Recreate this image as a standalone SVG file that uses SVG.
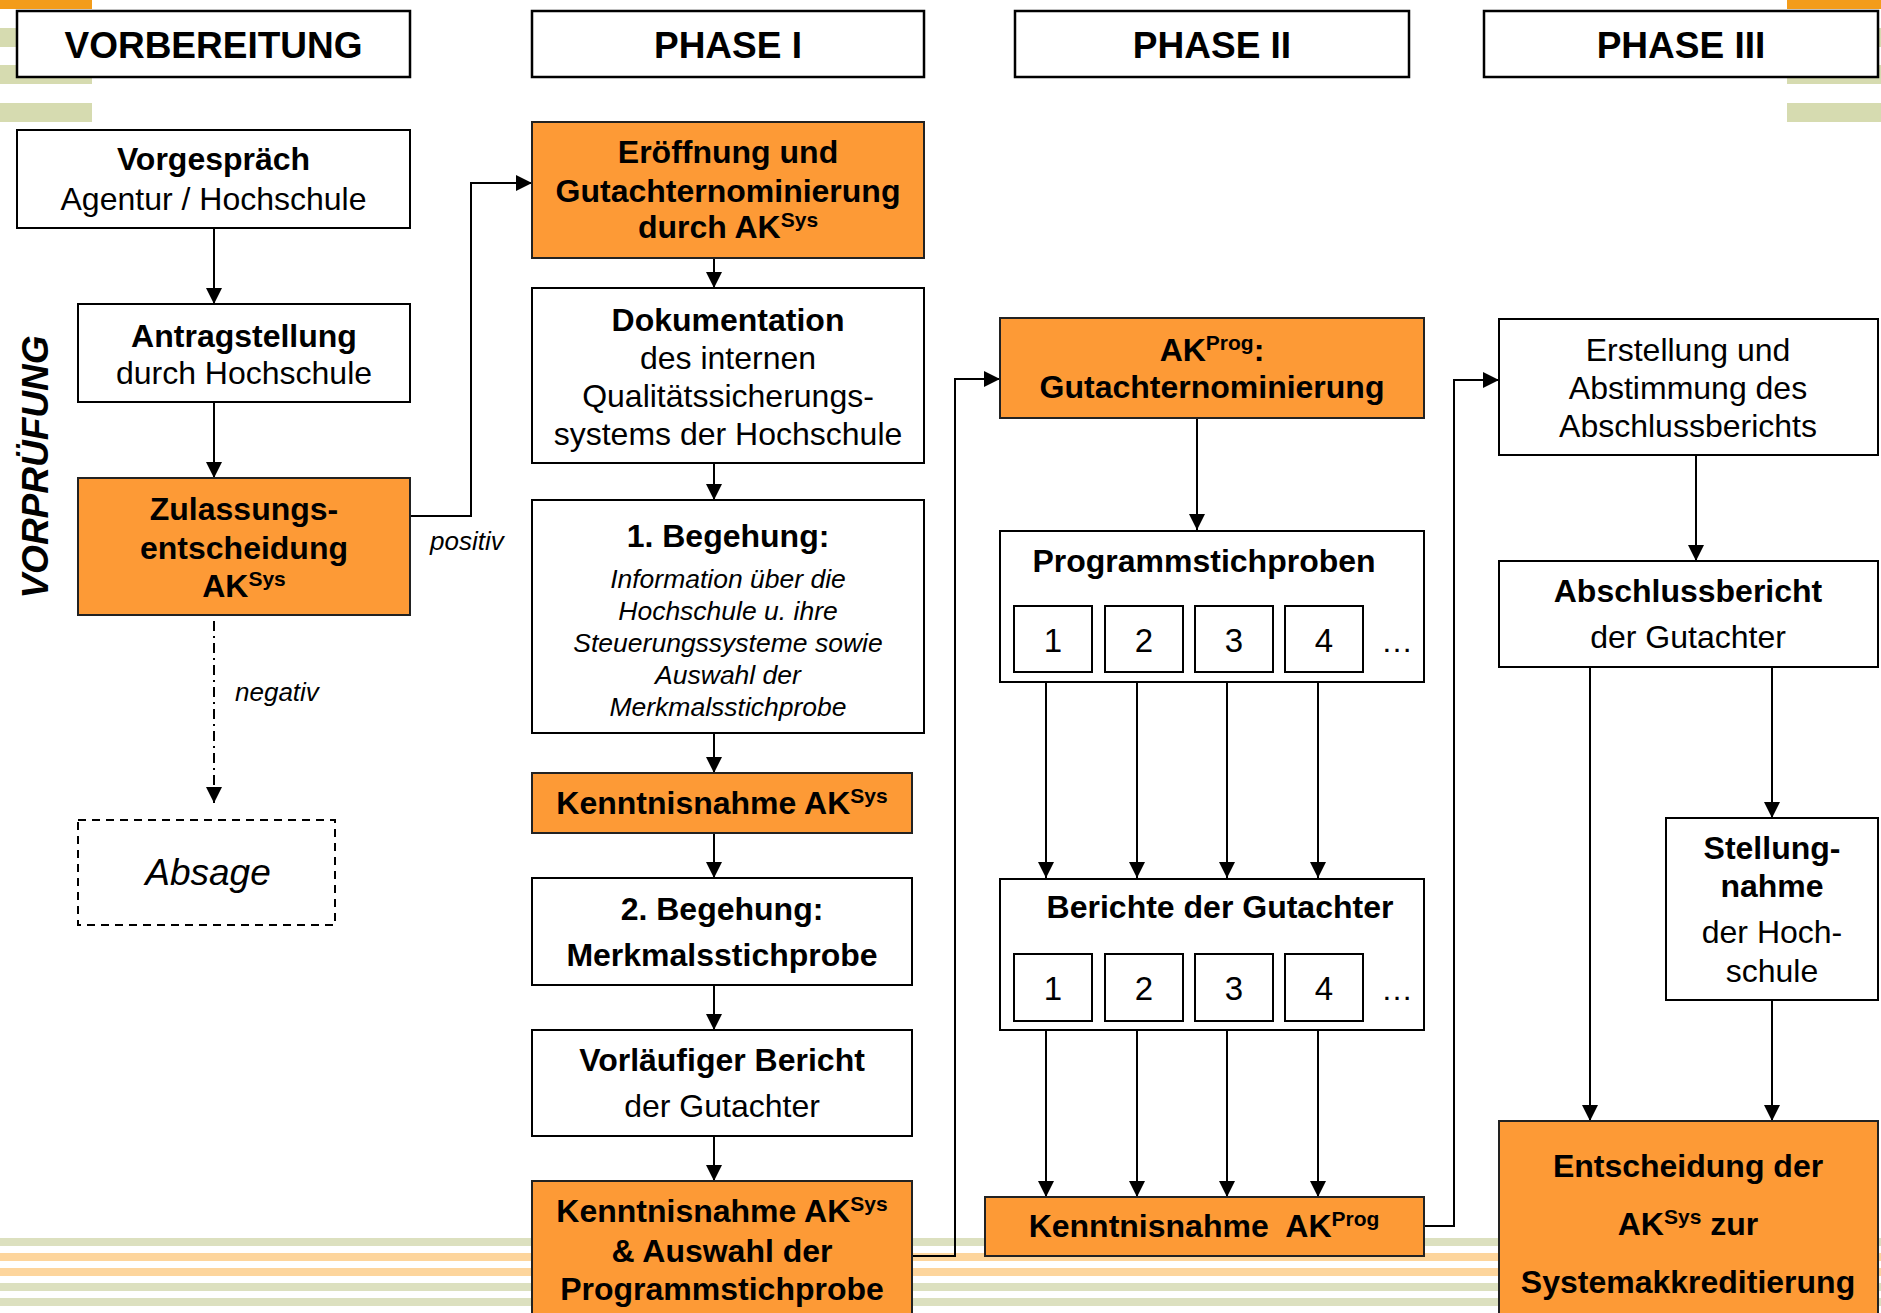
<svg xmlns="http://www.w3.org/2000/svg" width="1881" height="1313" viewBox="0 0 1881 1313">
<style>
.box{fill:#fff;stroke:#000;stroke-width:2}
.hbox{fill:#fff;stroke:#000;stroke-width:2.5}
.obox{fill:#fd9a36;stroke:#222;stroke-width:2}
.sub{fill:#fff;stroke:#000;stroke-width:2}
.t{font-family:"Liberation Sans",Arial,Helvetica,sans-serif;font-size:32px;text-anchor:middle;fill:#000}
.b{font-weight:bold}
.i{font-style:italic}
.h{font-size:37px;font-weight:bold}
.s{font-size:21px}
.c{fill:none;stroke:#000;stroke-width:2}
.dg{fill:#d6dbb0}
.do{fill:#f39c1a}
.sg{fill:#dce0bf}
.so{fill:#fdd59c}
</style>
<defs>
<marker id="ah" markerUnits="userSpaceOnUse" markerWidth="16" markerHeight="16" viewBox="0 0 15 15" refX="15" refY="7.5" orient="auto">
<path d="M0,0 L15,7.5 L0,15 z" fill="#000"/>
</marker>
</defs>
<rect width="1881" height="1313" fill="#fff"/>
<g id="decor">
<rect class="do" x="0" y="0" width="92" height="9"/>
<rect class="dg" x="0" y="28" width="92" height="19"/>
<rect class="dg" x="0" y="65" width="92" height="19"/>
<rect class="dg" x="0" y="103" width="92" height="19"/>
<rect class="do" x="1787" y="0" width="94" height="9"/>
<rect class="dg" x="1787" y="28" width="94" height="19"/>
<rect class="dg" x="1787" y="65" width="94" height="19"/>
<rect class="dg" x="1787" y="103" width="94" height="19"/>
<rect class="sg" x="0" y="1238" width="1881" height="8"/>
<rect class="so" x="0" y="1253" width="1881" height="8"/>
<rect class="so" x="0" y="1268" width="1881" height="8"/>
<rect class="sg" x="0" y="1283" width="1881" height="8"/>
<rect class="sg" x="0" y="1298" width="1881" height="8"/>
</g>
<g id="headers">
<g id="h-vorbereitung"><rect class="hbox" x="17" y="11" width="393" height="66"/><text class="t h" x="213.5" y="58">VORBEREITUNG</text></g>
<g id="h-phase1"><rect class="hbox" x="532" y="11" width="392" height="66"/><text class="t h" x="728" y="58">PHASE I</text></g>
<g id="h-phase2"><rect class="hbox" x="1015" y="11" width="394" height="66"/><text class="t h" x="1212" y="58">PHASE II</text></g>
<g id="h-phase3"><rect class="hbox" x="1484" y="11" width="394" height="66"/><text class="t h" x="1681" y="58">PHASE III</text></g>
</g>
<g id="connectors">
<path class="c" d="M214,228 V304" marker-end="url(#ah)"/>
<path class="c" d="M214,402 V478" marker-end="url(#ah)"/>
<path class="c" d="M214,621 V803" stroke-dasharray="10,5,2,5" marker-end="url(#ah)"/>
<path class="c" d="M410,516 H471 V183 H532" marker-end="url(#ah)"/>
<path class="c" d="M714,258 V288" marker-end="url(#ah)"/>
<path class="c" d="M714,463 V500" marker-end="url(#ah)"/>
<path class="c" d="M714,733 V773" marker-end="url(#ah)"/>
<path class="c" d="M714,833 V878" marker-end="url(#ah)"/>
<path class="c" d="M714,985 V1030" marker-end="url(#ah)"/>
<path class="c" d="M714,1136 V1181" marker-end="url(#ah)"/>
<path class="c" d="M912,1256 H955 V379 H1000" marker-end="url(#ah)"/>
<path class="c" d="M1197,418 V530" marker-end="url(#ah)"/>
<path class="c" d="M1046,682 V878" marker-end="url(#ah)"/>
<path class="c" d="M1137,682 V878" marker-end="url(#ah)"/>
<path class="c" d="M1227,682 V878" marker-end="url(#ah)"/>
<path class="c" d="M1318,682 V878" marker-end="url(#ah)"/>
<path class="c" d="M1046,1030 V1197" marker-end="url(#ah)"/>
<path class="c" d="M1137,1030 V1197" marker-end="url(#ah)"/>
<path class="c" d="M1227,1030 V1197" marker-end="url(#ah)"/>
<path class="c" d="M1318,1030 V1197" marker-end="url(#ah)"/>
<path class="c" d="M1424,1226 H1454 V380 H1499" marker-end="url(#ah)"/>
<path class="c" d="M1696,455 V561" marker-end="url(#ah)"/>
<path class="c" d="M1590,667 V1121" marker-end="url(#ah)"/>
<path class="c" d="M1772,667 V818" marker-end="url(#ah)"/>
<path class="c" d="M1772,1000 V1121" marker-end="url(#ah)"/>
<text class="t i" style="font-size:26px;text-anchor:start" x="235" y="701">negativ</text>
<text class="t i" style="font-size:26px;text-anchor:start" x="430" y="550">positiv</text>
</g>
<text class="t b i" style="font-size:37px" transform="translate(48,467) rotate(-90)">VORPRÜFUNG</text>
<g id="vorgespraech"><rect class="box" x="17" y="130" width="393" height="98"/>
<text class="t b" x="213.5" y="170">Vorgespräch</text><text class="t" x="213.5" y="210">Agentur / Hochschule</text></g>
<g id="antragstellung"><rect class="box" x="78" y="304" width="332" height="98"/>
<text class="t b" x="244" y="347">Antragstellung</text><text class="t" x="244" y="384">durch Hochschule</text></g>
<g id="zulassung"><rect class="obox" x="78" y="478" width="332" height="137"/>
<text class="t b" x="244" y="520">Zulassungs-</text><text class="t b" x="244" y="559">entscheidung</text>
<text class="t b" x="244" y="597">AK<tspan class="s" dy="-11">Sys</tspan></text></g>
<g id="absage"><rect class="box" x="78" y="820" width="257" height="105" stroke-dasharray="8,6"/>
<text class="t i" style="font-size:37px" x="208" y="885">Absage</text></g>
<g id="eroeffnung"><rect class="obox" x="532" y="122" width="392" height="136"/>
<text class="t b" x="728" y="163">Eröffnung und</text><text class="t b" x="728" y="202">Gutachternominierung</text>
<text class="t b" x="728" y="238">durch AK<tspan class="s" dy="-11">Sys</tspan></text></g>
<g id="dokumentation"><rect class="box" x="532" y="288" width="392" height="175"/>
<text class="t b" x="728" y="331">Dokumentation</text><text class="t" x="728" y="369">des internen</text>
<text class="t" x="728" y="407">Qualitätssicherungs-</text><text class="t" x="728" y="445">systems der Hochschule</text></g>
<g id="begehung1"><rect class="box" x="532" y="500" width="392" height="233"/>
<text class="t b" x="728" y="547">1. Begehung:</text>
<text class="t i" style="font-size:26.5px" x="728" y="588">Information über die</text>
<text class="t i" style="font-size:26.5px" x="728" y="620">Hochschule u. ihre</text>
<text class="t i" style="font-size:26.5px" x="728" y="652">Steuerungssysteme sowie</text>
<text class="t i" style="font-size:26.5px" x="728" y="684">Auswahl der</text>
<text class="t i" style="font-size:26.5px" x="728" y="716">Merkmalsstichprobe</text></g>
<g id="kenntnis1"><rect class="obox" x="532" y="773" width="380" height="60"/>
<text class="t b" x="722" y="814">Kenntnisnahme AK<tspan class="s" dy="-11">Sys</tspan></text></g>
<g id="begehung2"><rect class="box" x="532" y="878" width="380" height="107"/>
<text class="t b" x="722" y="920">2. Begehung:</text><text class="t b" x="722" y="966">Merkmalsstichprobe</text></g>
<g id="vorlaeufig"><rect class="box" x="532" y="1030" width="380" height="106"/>
<text class="t b" x="722" y="1071">Vorläufiger Bericht</text><text class="t" x="722" y="1117">der Gutachter</text></g>
<g id="kenntnis2"><rect class="obox" x="532" y="1181" width="380" height="145"/>
<text class="t b" x="722" y="1222">Kenntnisnahme AK<tspan class="s" dy="-11">Sys</tspan></text>
<text class="t b" x="722" y="1262">&amp; Auswahl der</text><text class="t b" x="722" y="1300">Programmstichprobe</text></g>
<g id="akprog"><rect class="obox" x="1000" y="318" width="424" height="100"/>
<text class="t b" x="1212" y="361">AK<tspan class="s" dy="-11">Prog</tspan><tspan dy="11">:</tspan></text>
<text class="t b" x="1212" y="398">Gutachternominierung</text></g>
<g id="programmstichproben"><rect class="box" x="1000" y="531" width="424" height="151"/>
<text class="t b" x="1204" y="572">Programmstichproben</text>
<rect class="sub" x="1014" y="606" width="78" height="66"/><text class="t" style="font-size:33px" x="1053" y="652">1</text>
<rect class="sub" x="1105" y="606" width="78" height="66"/><text class="t" style="font-size:33px" x="1144" y="652">2</text>
<rect class="sub" x="1195" y="606" width="78" height="66"/><text class="t" style="font-size:33px" x="1234" y="652">3</text>
<rect class="sub" x="1285" y="606" width="78" height="66"/><text class="t" style="font-size:33px" x="1324" y="652">4</text>
<text class="t" style="text-anchor:start" x="1381" y="652">…</text></g>
<g id="berichte"><rect class="box" x="1000" y="879" width="424" height="151"/>
<text class="t b" x="1220" y="918">Berichte der Gutachter</text>
<rect class="sub" x="1014" y="954" width="78" height="67"/><text class="t" style="font-size:33px" x="1053" y="1000">1</text>
<rect class="sub" x="1105" y="954" width="78" height="67"/><text class="t" style="font-size:33px" x="1144" y="1000">2</text>
<rect class="sub" x="1195" y="954" width="78" height="67"/><text class="t" style="font-size:33px" x="1234" y="1000">3</text>
<rect class="sub" x="1285" y="954" width="78" height="67"/><text class="t" style="font-size:33px" x="1324" y="1000">4</text>
<text class="t" style="text-anchor:start" x="1381" y="1000">…</text></g>
<g id="kenntnisprog"><rect class="obox" x="985" y="1197" width="439" height="59"/>
<text class="t b" x="1204" y="1237">Kenntnisnahme&#160; AK<tspan class="s" dy="-11">Prog</tspan></text></g>
<g id="erstellung"><rect class="box" x="1499" y="319" width="379" height="136"/>
<text class="t" x="1688" y="361">Erstellung und</text><text class="t" x="1688" y="399">Abstimmung des</text>
<text class="t" x="1688" y="437">Abschlussberichts</text></g>
<g id="abschlussbericht"><rect class="box" x="1499" y="561" width="379" height="106"/>
<text class="t b" x="1688" y="602">Abschlussbericht</text><text class="t" x="1688" y="648">der Gutachter</text></g>
<g id="stellungnahme"><rect class="box" x="1666" y="818" width="212" height="182"/>
<text class="t b" x="1772" y="859">Stellung-</text><text class="t b" x="1772" y="897">nahme</text>
<text class="t" x="1772" y="943">der Hoch-</text><text class="t" x="1772" y="982">schule</text></g>
<g id="entscheidung"><rect class="obox" x="1499" y="1121" width="379" height="205"/>
<text class="t b" x="1688" y="1177">Entscheidung der</text>
<text class="t b" x="1688" y="1235">AK<tspan class="s" dy="-11">Sys</tspan><tspan dy="11"> zur</tspan></text>
<text class="t b" x="1688" y="1293">Systemakkreditierung</text></g>
</svg>
